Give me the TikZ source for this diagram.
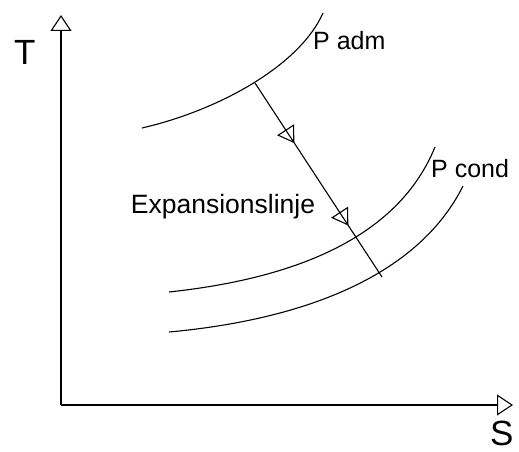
\documentclass[tikz,border=0pt]{standalone}
\usepackage{fontspec}
\setmainfont{Liberation Sans}
\usetikzlibrary{arrows.meta,decorations.markings}
\begin{document}
\begin{tikzpicture}[x=1pt,y=-1pt,
  axisline/.style={line width=1.1pt,-{Triangle[open,length=16pt,width=21pt,line width=1.1pt]}},
  curveline/.style={line width=1.1pt},
  lbl/.style={inner sep=0pt,font=\fontsize{25}{28}\selectfont},
  explbl/.style={inner sep=0pt,font=\fontsize{26.5}{30}\selectfont},
  biglbl/.style={inner sep=0pt,font=\fontsize{35}{40}\selectfont},
  expline/.style={line width=1.1pt,postaction={decorate},decoration={markings,
    mark=at position 0.31 with {\arrow{Triangle[open,length=16pt,width=20pt,line width=1.1pt]}},
    mark=at position 0.735 with {\arrow{Triangle[open,length=16pt,width=20pt,line width=1.1pt]}}}}]
\useasboundingbox (0,0) rectangle (519,452);
\coordinate (o) at (61,405);
\coordinate (ytop) at (61,15);
\coordinate (xend) at (513,405);
\draw[axisline] (o) -- (ytop);
\draw[axisline] (o) -- (xend);
\node[biglbl,anchor=base west] (T) at (14,64) {T};
\node[biglbl,anchor=base west] (S) at (490,445) {S};
% curves
\draw[curveline] (142,128) .. controls (220,110) and (300,65) .. (323,13);
\draw[curveline] (169,292) .. controls (280,280) and (395,245) .. (435,147);
\draw[curveline] (169,332) .. controls (300,320) and (417,278) .. (463,186);
\node[lbl,anchor=base west] (padm) at (313,50) {P adm};
\node[lbl,anchor=base west] (pcond) at (431,177) {P cond};
\node[explbl,anchor=base] (exp) at (223,213) {Expansionslinje};
\coordinate (a) at (255,83);
\coordinate (b) at (382,277);
\draw[expline] (a) -- (b);
\end{tikzpicture}
\end{document}
